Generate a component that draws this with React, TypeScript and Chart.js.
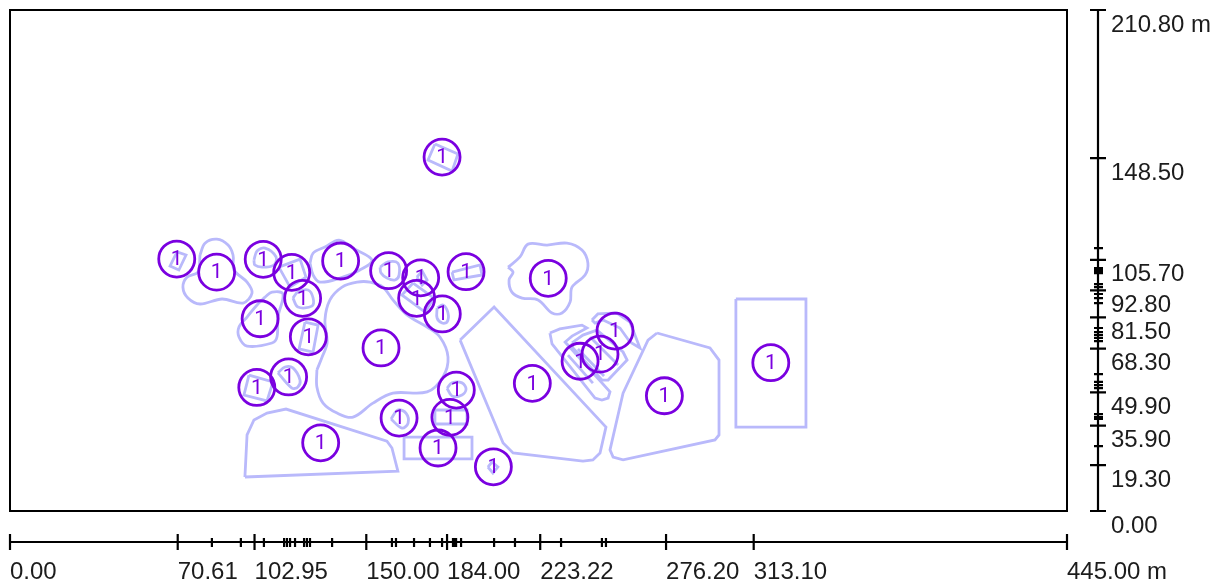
import React, { useEffect, useRef } from "react";
import { Chart, registerables } from "chart.js";

Chart.register(...registerables);

type Pair = [number, number];

// Axis ranges and ticks (metres)
const xMax = 445;
const yMax = 210.8;
const xLabelledTicks = [0, 70.61, 102.95, 150, 184, 223.22, 276.2, 313.1, 445];
const xTickLabels = ["0.00", "70.61", "102.95", "150.00", "184.00", "223.22", "276.20", "313.10", "445.00 m"];
const xMinorTicks = [85, 97.2, 106.9, 115.4, 116.6, 117.9, 120, 123.8, 125, 126.3, 135.6, 160.8, 162.5, 170.1, 176.8, 181.9, 186.5, 187.3, 187.8, 189.9, 203.8, 212.6, 232, 249.2, 250.9];
const yLabelledTicks = [0, 19.3, 35.9, 49.9, 68.3, 81.5, 92.8, 105.7, 148.5, 210.8];
const yTickLabels = ["0.00", "19.30", "35.90", "49.90", "68.30", "81.50", "92.80", "105.70", "148.50", "210.80 m"];
const yMinorTicks = [27.3, 38.7, 39.5, 40.8, 51.7, 53, 54.3, 57.6, 71.5, 72.8, 74, 75.3, 77, 87.5, 89.6, 91.3, 94.2, 95.5, 100.1, 100.8, 101.4, 102.2, 110.6];

// Labelled markers
const markerValues: Pair[] = [
  [181.9, 148.9], [70.2, 106.0], [87.0, 100.5], [106.6, 105.9], [118.6, 100.4], [139.2, 105.2],
  [159.4, 101.1], [172.9, 98.1], [192.0, 100.7], [226.6, 97.9], [123.2, 89.5], [171.2, 89.5],
  [182.0, 82.9], [105.3, 80.9], [125.6, 73.3], [156.2, 68.6], [254.7, 75.7], [248.4, 66.0],
  [240.0, 63.0], [320.3, 62.4], [117.3, 56.4], [103.9, 52.0], [219.9, 53.7], [187.9, 50.9],
  [275.5, 48.5], [163.8, 39.1], [185.2, 39.4], [130.8, 28.7], [180.2, 26.5], [203.5, 18.6],
];
const markerText = "1";

// Smooth outlines
const centralBlob: Pair[] = [[129.2, 59.3], [131.4, 64.8], [133.5, 70.7], [132.6, 80.4], [134.7, 88.8], [139.8, 94.2], [146.1, 96.3], [151.6, 96.3], [157.0, 94.2], [161.2, 88.8], [167.1, 82.5], [175.6, 77.4], [181.0, 73.2], [184.4, 64.8], [182.3, 56.4], [175.6, 50.1], [161.2, 49.6], [152.8, 45.4], [144.4, 39.5], [137.7, 41.2], [131.8, 45.4], [129.2, 52.2]];
const blobF: Pair[] = [[160.4, 38.7], [163.3, 42.5], [166.7, 41.2], [167.6, 37.0], [165.0, 34.9]];
const blobG: Pair[] = [[184.0, 51.7], [186.1, 53.9], [190.3, 53.9], [192.0, 51.3], [190.3, 48.8], [186.1, 48.4]];
const blobI: Pair[] = [[112.8, 58.1], [115.8, 60.6], [119.1, 60.2], [122.1, 55.1], [121.2, 52.2], [118.7, 51.7]];
const blobK: Pair[] = [[107.4, 90.0], [110.3, 92.1], [114.9, 91.3], [112.8, 81.6], [112.4, 73.2], [110.3, 70.7], [99.8, 69.4], [96.4, 73.2], [96.4, 77.4], [99.8, 81.6], [104.0, 86.7]];
const blobM: Pair[] = [[80.0, 107.7], [82.1, 112.7], [87.1, 114.4], [91.8, 111.9], [93.9, 107.7], [94.3, 101.4], [99.8, 96.3], [101.9, 91.7], [98.1, 87.5], [89.3, 89.2], [80.0, 87.1], [74.9, 89.6], [72.8, 94.2], [74.5, 98.4], [79.1, 100.5]];
const blobN: Pair[] = [[102.7, 105.6], [104.0, 109.4], [107.4, 110.6], [112.0, 106.9], [111.1, 103.5], [106.1, 102.6], [103.1, 103.5]];
const blobP: Pair[] = [[119.1, 89.6], [121.2, 92.1], [125.5, 93.0], [127.6, 89.6], [127.1, 86.2], [121.2, 85.8]];
const blobQ: Pair[] = [[126.3, 104.3], [127.6, 108.5], [132.6, 111.1], [138.5, 114.0], [144.4, 110.6], [152.4, 105.6], [147.3, 101.4], [138.9, 98.0], [130.5, 96.3], [127.6, 99.3]];
const blobR: Pair[] = [[155.8, 102.6], [159.1, 104.8], [163.3, 104.3], [163.8, 99.3], [162.1, 97.2], [158.7, 98.0], [156.2, 100.1]];
const blobU: Pair[] = [[179.8, 85.4], [182.3, 86.7], [184.4, 83.3], [184.0, 79.5], [181.9, 79.1], [179.8, 81.2]];
const blobX: Pair[] = [[209.7, 102.6], [214.7, 106.9], [218.1, 112.3], [226.1, 111.9], [234.5, 112.7], [240.8, 109.8], [243.3, 104.3], [242.1, 99.3], [236.6, 94.2], [235.8, 87.9], [232.4, 83.3], [228.2, 83.3], [222.3, 88.8], [215.6, 89.6], [211.3, 92.1], [210.1, 97.2], [211.8, 100.5]];
const smoothOutlines = [centralBlob, blobF, blobG, blobI, blobK, blobM, blobN, blobP, blobQ, blobR, blobU, blobX];

// Straight-sided outlines
const wedgeB: Pair[] = [[98.9, 14.3], [99.8, 32.0], [102.7, 38.3], [108.2, 41.2], [116.2, 42.9], [158.7, 29.4], [160.8, 26.5], [163.3, 16.8]];
const rectC: Pair[] = [[165.9, 31.1], [194.5, 31.1], [194.5, 21.9], [165.9, 21.9]];
const rectD: Pair[] = [[178.9, 42.5], [192.4, 42.5], [192.4, 36.6], [178.9, 36.6]];
const quadE: Pair[] = [[201.2, 18.5], [202.9, 20.6], [205.4, 18.5], [203.3, 16.0]];
const rectH: Pair[] = [[100.6, 57.2], [110.7, 54.3], [108.2, 46.3], [98.5, 48.8]];
const rectJ: Pair[] = [[124.2, 79.5], [129.7, 78.2], [127.6, 66.9], [121.7, 68.2]];
const quadL: Pair[] = [[70.3, 109.0], [74.1, 107.7], [71.1, 101.4], [67.4, 103.1]];
const rectO: Pair[] = [[113.2, 102.6], [122.1, 106.0], [124.6, 98.4], [117.9, 94.2]];
const quadS: Pair[] = [[171.3, 98.4], [173.5, 101.0], [175.6, 97.2], [173.5, 95.1]];
const rectT: Pair[] = [[169.7, 95.9], [178.5, 89.6], [174.7, 83.7], [165.0, 90.9]];
const rectV: Pair[] = [[186.1, 100.5], [197.9, 103.5], [198.7, 99.3], [186.9, 97.2]];
const rectW: Pair[] = [[178.9, 154.4], [188.6, 150.2], [186.1, 143.0], [176.0, 147.7]];
const plotY: Pair[] = [[189.5, 71.9], [203.8, 85.8], [250.9, 35.3], [248.4, 24.4], [245.4, 21.5], [241.2, 21.0], [211.8, 24.4], [207.6, 28.6]];
const plotZ: Pair[] = [[272.4, 74.9], [294.7, 68.6], [298.5, 63.5], [298.5, 32.0], [296.8, 29.9], [258.1, 21.5], [253.9, 22.7], [252.6, 25.7], [258.1, 49.6], [268.6, 71.9]];
const rectAA: Pair[] = [[305.6, 89.2], [335.1, 89.2], [335.1, 35.3], [305.6, 35.3]];
const hookA: Pair[] = [[227.3, 74.9], [231.5, 76.6], [240.8, 78.2], [242.9, 77.0], [236.6, 73.6], [233.7, 71.1], [252.6, 50.1], [251.8, 47.5], [249.2, 46.7], [246.3, 47.5], [228.2, 70.3]];
const hatchB: Pair[] = [[236.6, 70.7], [241.2, 74.0], [247.1, 76.1], [258.1, 66.9], [259.8, 63.5], [251.8, 55.1], [249.2, 55.1], [237.0, 68.6]];
const arcD: Pair[] = [[245.0, 80.4], [247.5, 82.9], [255.5, 83.3], [261.0, 79.5], [265.2, 68.6], [261.0, 71.1], [256.8, 77.0], [249.7, 80.4], [246.3, 79.1]];
const straightOutlines = [wedgeB, rectC, rectD, quadE, rectH, rectJ, quadL, rectO, quadS, rectT, rectV, rectW, plotY, plotZ, rectAA, hookA, hatchB, arcD];

// Open strokes inside the hatched area
const stripe1: Pair[] = [[239.1, 68.2], [250.1, 56.8]];
const stripe2: Pair[] = [[244.2, 73.2], [256.0, 61.4]];
const stripe3: Pair[] = [[234.9, 65.6], [245.4, 53.8]];
const openStrokes = [stripe1, stripe2, stripe3];

const OUTLINE = "#b9b9fb";
const MARKER = "#7a00e0";
const INK = "#1c1c1c";
const FONT = '"Liberation Sans", Arial, sans-serif';

const toPoints = (pairs: Pair[]) => pairs.map(([x, y]) => ({ x, y }));
const closed = (pairs: Pair[]) => toPoints([...pairs, pairs[0]]);

const lineSet = (data: { x: number; y: number }[], tension: number) => ({
  data,
  showLine: true,
  tension,
  borderColor: OUTLINE,
  borderWidth: 2.8,
  pointRadius: 0,
  fill: false,
  order: 2,
});

const cadPlugin = {
  id: "cadPlugin",
  afterDatasetsDraw(chart: any) {
    const { ctx, chartArea, scales } = chart;
    const x = scales.x;
    const y = scales.y;
    ctx.save();
    // marker captions
    ctx.fillStyle = MARKER;
    ctx.font = '21px Roboto, sans-serif';
    ctx.textAlign = "center";
    ctx.textBaseline = "middle";
    for (const [mx, my] of markerValues) {
      ctx.fillText(markerText, x.getPixelForValue(mx), y.getPixelForValue(my) + 1);
    }
    // frame
    ctx.strokeStyle = "#000";
    ctx.lineWidth = 2;
    ctx.strokeRect(chartArea.left, chartArea.top, chartArea.right - chartArea.left, chartArea.bottom - chartArea.top);
    // separate rulers
    const rulerY = chartArea.bottom + 31;
    const rulerX = chartArea.right + 31;
    ctx.lineWidth = 2.2;
    ctx.beginPath();
    ctx.moveTo(x.getPixelForValue(0), rulerY);
    ctx.lineTo(x.getPixelForValue(xMax), rulerY);
    ctx.moveTo(rulerX, y.getPixelForValue(0));
    ctx.lineTo(rulerX, y.getPixelForValue(yMax));
    for (const v of xLabelledTicks) {
      const p = x.getPixelForValue(v);
      ctx.moveTo(p, rulerY - 8);
      ctx.lineTo(p, rulerY + 8);
    }
    for (const v of xMinorTicks) {
      const p = x.getPixelForValue(v);
      ctx.moveTo(p, rulerY - 4);
      ctx.lineTo(p, rulerY + 5);
    }
    for (const v of yLabelledTicks) {
      const p = y.getPixelForValue(v);
      ctx.moveTo(rulerX - 8, p);
      ctx.lineTo(rulerX + 8, p);
    }
    for (const v of yMinorTicks) {
      const p = y.getPixelForValue(v);
      ctx.moveTo(rulerX - 4, p);
      ctx.lineTo(rulerX + 5, p);
    }
    ctx.stroke();
    ctx.restore();
  },
};

export default function App() {
  const ref = useRef<HTMLCanvasElement>(null);
  useEffect(() => {
    if (!ref.current) return;
    const chart = new Chart(ref.current, {
      type: "scatter",
      data: {
        datasets: [
          {
            data: toPoints(markerValues),
            pointRadius: 18,
            pointHoverRadius: 18,
            pointBorderWidth: 2.8,
            pointBorderColor: MARKER,
            pointBackgroundColor: "rgba(0,0,0,0)",
            showLine: false,
            order: 1,
          },
          ...smoothOutlines.map((s) => lineSet(closed(s), 0.35)),
          ...straightOutlines.map((s) => lineSet(closed(s), 0)),
          ...openStrokes.map((s) => lineSet(toPoints(s), 0)),
        ] as any,
      },
      options: {
        animation: false,
        responsive: false,
        events: [],
        layout: { autoPadding: false, padding: { left: 10, top: 10, right: 0, bottom: 0 } },
        plugins: { legend: { display: false }, tooltip: { enabled: false } },
        scales: {
          x: {
            type: "linear",
            position: "bottom",
            min: 0,
            max: xMax,
            grid: { display: false, drawTicks: false },
            border: { display: false },
            afterBuildTicks: (scale: any) => {
              scale.ticks = xLabelledTicks.map((value) => ({ value }));
            },
            afterFit: (scale: any) => {
              scale.height = 73;
              scale.paddingLeft = 0;
              scale.paddingRight = 0;
            },
            ticks: {
              autoSkip: false,
              maxRotation: 0,
              minRotation: 0,
              align: "start",
              padding: 47,
              color: INK,
              font: { family: FONT, size: 24 },
              callback: (value: any) => xTickLabels[xLabelledTicks.indexOf(Number(value))] ?? "",
            },
          },
          y: {
            type: "linear",
            position: "right",
            min: 0,
            max: yMax,
            grid: { display: false, drawTicks: false },
            border: { display: false },
            afterBuildTicks: (scale: any) => {
              scale.ticks = yLabelledTicks.map((value) => ({ value }));
            },
            afterFit: (scale: any) => {
              scale.width = 154;
              scale.paddingTop = 0;
              scale.paddingBottom = 0;
            },
            ticks: {
              autoSkip: false,
              maxRotation: 0,
              minRotation: 0,
              align: "start",
              padding: 44,
              labelOffset: 3,
              color: INK,
              font: { family: FONT, size: 24 },
              callback: (value: any) => yTickLabels[yLabelledTicks.indexOf(Number(value))] ?? "",
            },
          },
        },
      } as any,
      plugins: [cadPlugin],
    });
    return () => chart.destroy();
  }, []);
  return (
    <div style={{ position: "absolute", left: 0, top: 0, width: 1221, height: 584 }}>
      <canvas ref={ref} width={1221} height={584} style={{ display: "block" }} />
    </div>
  );
}
